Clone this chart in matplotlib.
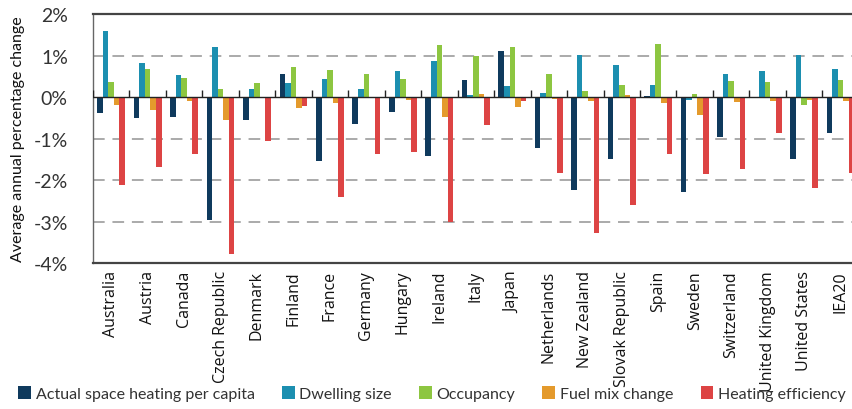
import numpy as np
import matplotlib.pyplot as plt

# Data (average annual % change)
countries = ["Australia", "Austria", "Canada", "Czech Republic", "Denmark", "Finland",
             "France", "Germany", "Hungary", "Ireland", "Italy", "Japan", "Netherlands",
             "New Zealand", "Slovak Republic", "Spain", "Sweden", "Switzerland",
             "United Kingdom", "United States", "IEA20"]
heating_per_capita = [-0.38, -0.51, -0.49, -2.97, -0.55, 0.56, -1.53, -0.65, -0.37, -1.43, 0.41,
                      1.12, -1.23, -2.24, -1.49, 0.03, -2.29, -0.95, 0.0, -1.49, -0.87]
dwelling_size = [1.60, 0.83, 0.53, 1.20, 0.20, 0.33, 0.43, 0.19, 0.63, 0.88, 0.05,
                 0.27, 0.11, 1.02, 0.78, 0.30, -0.07, 0.55, 0.63, 1.02, 0.67]
occupancy = [0.36, 0.69, 0.47, 0.20, 0.35, 0.73, 0.65, 0.56, 0.44, 1.25, 0.98,
             1.20, 0.55, 0.15, 0.29, 1.28, 0.08, 0.38, 0.37, -0.20, 0.42]
fuel_mix = [-0.18, -0.30, -0.10, -0.54, -0.02, -0.26, -0.14, 0.0, -0.08, -0.48, 0.07,
            -0.24, -0.04, -0.09, 0.05, -0.14, -0.44, -0.11, -0.09, -0.08, -0.10]
heating_eff = [-2.13, -1.69, -1.37, -3.79, -1.05, -0.22, -2.41, -1.38, -1.33, -3.00, -0.68,
               -0.09, -1.84, -3.28, -2.60, -1.36, -1.85, -1.74, -0.87, -2.19, -1.84]

series = [
    ("Actual space heating per capita", heating_per_capita, "#0f3a5d"),
    ("Dwelling size", dwelling_size, "#1c8fb0"),
    ("Occupancy", occupancy, "#8dc641"),
    ("Fuel mix change", fuel_mix, "#e49a2c"),
    ("Heating efficiency", heating_eff, "#dd4444"),
]
yticks = [2, 1, 0, -1, -2, -3, -4]
ytick_labels = ["2%", "1%", "0%", "-1%", "-2%", "-3%", "-4%"]

text_col = "#333333"

fig = plt.figure(figsize=(8.52, 4.10), dpi=100)
ax = fig.add_axes([0.109, 0.356, 0.899, 0.607])

x = np.arange(len(countries))
width = 0.153
for i, (name, vals, col) in enumerate(series):
    ax.bar(x + (i - 2) * width, vals, width, color=col, label=name, zorder=3)

ax.set_xlim(-0.5, len(countries) - 0.5)
ax.set_ylim(-4, 2)

# dashed gridlines
for yv in yticks:
    if yv not in (0, 2, -4):
        ax.axhline(yv, color="#aaaaaa", lw=1.4, ls=(0, (6, 4)), zorder=1)
ax.axhline(0, color="#222222", lw=1.0, zorder=4)
# small separator ticks on the zero line
ax.vlines(np.arange(len(countries) + 1) - 0.5, 0, 0.17, color="#222222", lw=1.0, zorder=4)

ax.set_yticks(yticks)
ax.set_yticklabels(ytick_labels, family="Lato", fontsize=14, color=text_col)
ax.tick_params(axis="y", length=0, pad=18)
ax.set_xticks(x)
ax.set_xticklabels(countries, rotation=90, family="Open Sans", fontsize=11.5, color="#111111")
ax.tick_params(axis="x", length=0, pad=5)
ax.set_ylabel("Average annual percentage change", family="Lato", fontsize=11.5,
              color="#111111", labelpad=6)

for s in ["top", "bottom"]:
    ax.spines[s].set_color("#444444")
    ax.spines[s].set_linewidth(1.6)
ax.spines["left"].set_color("#666666")
ax.spines["left"].set_linewidth(1.0)
ax.spines["right"].set_visible(False)

fig.legend(loc="lower center", bbox_to_anchor=(0.507, -0.012), ncol=5, frameon=False,
           prop={"family": "Lato", "size": 11.5}, handlelength=0.8, handleheight=0.8,
           handletextpad=0.3, columnspacing=1.7, labelcolor=text_col, borderpad=0.3)

fig.savefig("out.png", dpi=100)
